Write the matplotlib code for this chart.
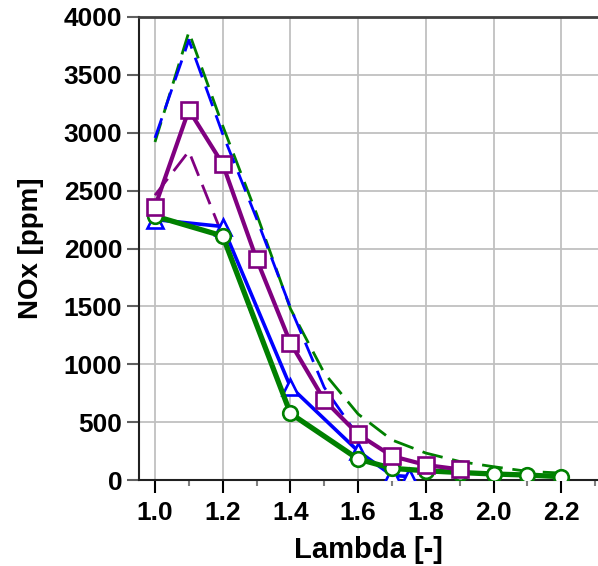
import matplotlib
matplotlib.use("Agg")
import matplotlib.pyplot as plt
from matplotlib.ticker import MultipleLocator

plt.rcParams['font.family'] = ['Liberation Sans', 'DejaVu Sans']
plt.rcParams['font.weight'] = 'bold'

# Data
green_x = [1.0, 1.2, 1.4, 1.6, 1.7, 1.8, 1.9, 2.0, 2.1, 2.2]
green_y = [2280, 2108, 576, 181, 101, 80, 65, 52, 43, 29]

blue_x = [1.0, 1.2, 1.4, 1.6, 1.7, 1.75]
blue_y = [2250, 2190, 806, 250, 40, 30]

purple_x = [1.0, 1.1, 1.2, 1.3, 1.4, 1.5, 1.6, 1.7, 1.8, 1.9]
purple_y = [2361, 3197, 2730, 1909, 1186, 691, 395, 207, 130, 92]

green_d_x = [1.0, 1.1, 1.2, 1.3, 1.4, 1.5, 1.6, 1.7, 1.8, 1.9, 2.0, 2.1, 2.2]
green_d_y = [2920, 3870, 3060, 2300, 1480, 924, 570, 346, 233, 160, 115, 75, 60]

blue_d_x = [1.0, 1.1, 1.2, 1.3, 1.4, 1.5, 1.6]
blue_d_y = [2955, 3800, 2990, 2260, 1490, 800, 380]

purple_d_x = [1.0, 1.1, 1.2, 1.3]
purple_d_y = [2460, 2840, 2110, 1320]

x_ticks = [1.0, 1.2, 1.4, 1.6, 1.8, 2.0, 2.2]
y_ticks = [0, 500, 1000, 1500, 2000, 2500, 3000, 3500, 4000]

fig = plt.figure(figsize=(5.98, 5.66), dpi=100)
ax = fig.add_axes([0.2324, 0.1519, 0.7676, 0.8181])

dash = (0, (7.5, 3.5))
ax.plot(green_d_x, green_d_y, color='#008000', lw=2.0, ls=dash, zorder=3)
ax.plot(blue_d_x, blue_d_y, color='#0000ff', lw=2.0, ls=dash, zorder=3)
ax.plot(purple_d_x, purple_d_y, color='#800080', lw=2.0, ls=dash, zorder=3)

ax.plot(blue_x, blue_y, color='#0000ff', lw=2.6, marker='^', ms=11,
        mfc='white', mec='#0000ff', mew=1.9, zorder=4)
ax.plot(green_x, green_y, color='#008000', lw=3.8, marker='o', ms=10.5,
        mfc='white', mec='#008000', mew=1.9, zorder=5)
ax.plot(purple_x, purple_y, color='#800080', lw=3.0, marker='s', ms=11.5,
        mfc='white', mec='#800080', mew=1.9, zorder=6)

ax.set_xlim(0.9527, 2.3087)
ax.set_ylim(0, 4000)
ax.set_xticks(x_ticks)
ax.set_xticklabels([f"{v:.1f}" for v in x_ticks])
ax.set_yticks(y_ticks)
ax.set_yticklabels([str(v) for v in y_ticks])
ax.xaxis.set_minor_locator(MultipleLocator(0.1))

ax.grid(True, which='major', color='#c0c0c0', lw=1.3, zorder=0)
ax.set_axisbelow(True)

for s in ['left', 'bottom']:
    ax.spines[s].set_color('#202020')
    ax.spines[s].set_linewidth(1.5)
ax.spines['top'].set_color('#404040')
ax.spines['top'].set_linewidth(2)
ax.spines['right'].set_visible(False)

ax.tick_params(axis='x', which='major', direction='out', length=9, width=1.5,
               color='black', labelsize=19, pad=6)
ax.tick_params(axis='x', which='minor', direction='out', length=4, width=1.5,
               color='#808080')
ax.tick_params(axis='y', which='major', direction='out', length=9, width=1.5,
               color='#606060', labelsize=19, pad=3)

for lab in ax.get_xticklabels() + ax.get_yticklabels():
    lab.set_fontweight('bold')

ax.set_xlabel('Lambda [-]', fontsize=21, fontweight='bold', labelpad=8)
ax.set_ylabel('NOx [ppm]', fontsize=20, fontweight='bold', labelpad=14)

fig.savefig('out.png', dpi=100)
